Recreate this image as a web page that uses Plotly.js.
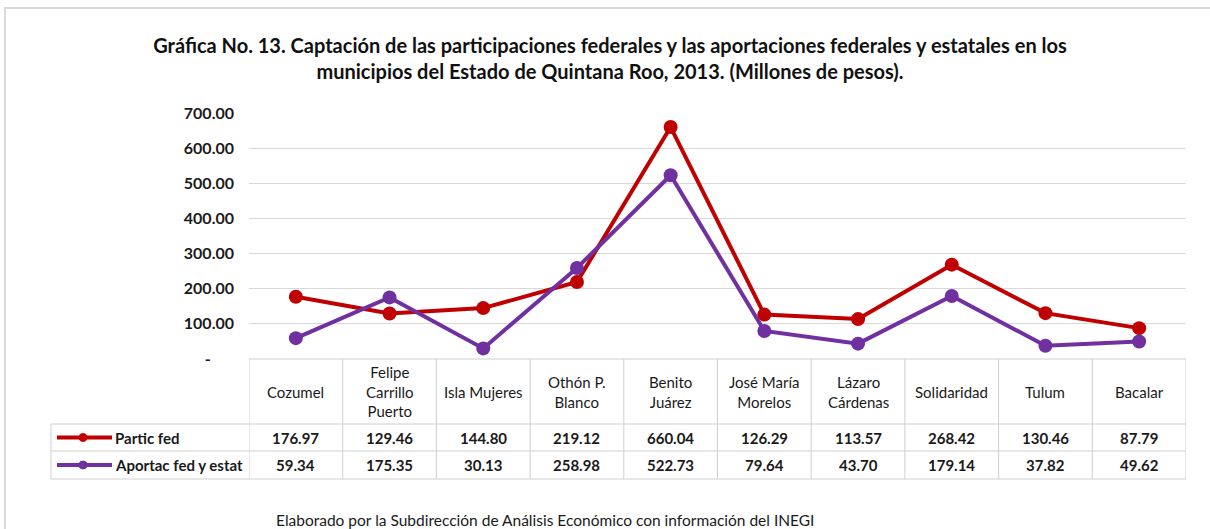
<!DOCTYPE html>
<html>
<head>
<meta charset="utf-8">
<script src="https://cdn.plot.ly/plotly-3.0.1.min.js"></script>
<style>
  html, body { margin: 0; padding: 0; background: #fff; }
  #plotlyDiv { width: 1210px; height: 529px; }
</style>
</head>
<body>
<div id="plotlyDiv"></div>
<script>
// datos de la grafica
const municipios = ['Cozumel', 'Felipe Carrillo Puerto', 'Isla Mujeres', 'Othón P. Blanco', 'Benito Juárez',
  'José María Morelos', 'Lázaro Cárdenas', 'Solidaridad', 'Tulum', 'Bacalar'];
const encabezados = ['Cozumel', 'Felipe<br>Carrillo<br>Puerto', 'Isla Mujeres', 'Othón P.<br>Blanco', 'Benito<br>Juárez',
  'José María<br>Morelos', 'Lázaro<br>Cárdenas', 'Solidaridad', 'Tulum', 'Bacalar'];
const participFed = [176.97, 129.46, 144.80, 219.12, 660.04, 126.29, 113.57, 268.42, 130.46, 87.79];
const aportacFed = [59.34, 175.35, 30.13, 258.98, 522.73, 79.64, 43.70, 179.14, 37.82, 49.62];
const nombresSeries = ['Partic fed', 'Aportac fed y estat'];
const colores = ['#C00000', '#7030A0'];
const yTicks = [0, 100, 200, 300, 400, 500, 600, 700];

const W = 1210, H = 529;
const FONT = 'Lato, "Open Sans", sans-serif';
// pixel -> paper
const px = v => v / W;
const py = v => 1 - v / H;

const series = [participFed, aportacFed];

const data = series.map((vals, i) => ({
  x: municipios,
  y: vals,
  type: 'scatter',
  mode: 'lines+markers',
  name: nombresSeries[i],
  line: { color: colores[i], width: 4 },
  marker: { color: colores[i], size: 14 },
  cliponaxis: false
}));

// tabla de datos bajo la grafica
const rowTop = 359, rowHead = 424, row1 = 451, row2 = 479;
const leftEdge = 51;
const shapes = [];
const annotations = [];
const gridColor = '#cfcfcf';

// lineas horizontales de la tabla
shapes.push({ type: 'line', xref: 'x', yref: 'paper', x0: -0.5, x1: municipios.length - 0.5, y0: py(rowTop), y1: py(rowTop), line: { color: gridColor, width: 1 } });
[rowHead, row1, row2].forEach(r => {
  shapes.push({ type: 'line', xref: 'paper', yref: 'paper', x0: px(leftEdge), x1: px(1186), y0: py(r), y1: py(r), line: { color: gridColor, width: 1 } });
});
// lineas verticales
for (let k = 0; k <= municipios.length; k++) {
  shapes.push({ type: 'line', xref: 'x', yref: 'paper', x0: k - 0.5, x1: k - 0.5, y0: py(rowTop), y1: py(row2), line: { color: gridColor, width: 1 } });
}
shapes.push({ type: 'line', xref: 'paper', yref: 'paper', x0: px(leftEdge), x1: px(leftEdge), y0: py(rowHead), y1: py(row2), line: { color: gridColor, width: 1 } });

// marco exterior
shapes.push({ type: 'line', xref: 'paper', yref: 'paper', x0: px(4), x1: 1, y0: py(8), y1: py(8), line: { color: '#d9d9d9', width: 2 } });
shapes.push({ type: 'line', xref: 'paper', yref: 'paper', x0: px(5), x1: px(5), y0: py(8), y1: 0, line: { color: '#d9d9d9', width: 2 } });

// encabezados
encabezados.forEach((t, i) => {
  annotations.push({ text: t, xref: 'x', yref: 'paper', x: municipios[i], y: py((rowTop + rowHead) / 2),
    showarrow: false, xanchor: 'center', yanchor: 'middle', align: 'center',
    font: { family: FONT, size: 15, color: '#1a1a1a' } });
});

// valores y claves de la leyenda
const rows = [(rowHead + row1) / 2, (row1 + row2) / 2];
series.forEach((vals, s) => {
  vals.forEach((v, i) => {
    annotations.push({ text: '<b>' + v.toFixed(2) + '</b>', xref: 'x', yref: 'paper', x: municipios[i], y: py(rows[s]),
      showarrow: false, xanchor: 'center', yanchor: 'middle',
      font: { family: FONT, size: 15, color: '#1a1a1a' } });
  });
  shapes.push({ type: 'line', xref: 'paper', yref: 'paper', x0: px(57), x1: px(112), y0: py(rows[s]), y1: py(rows[s]), line: { color: colores[s], width: 4 } });
  shapes.push({ type: 'circle', xref: 'paper', yref: 'paper', x0: px(79), x1: px(87), y0: py(rows[s] - 4), y1: py(rows[s] + 4), fillcolor: colores[s], line: { color: colores[s], width: 1 } });
  annotations.push({ text: '<b>' + nombresSeries[s] + '</b>', xref: 'paper', yref: 'paper', x: px(113), y: py(rows[s]),
    showarrow: false, xanchor: 'left', yanchor: 'middle',
    font: { family: FONT, size: 15, color: '#1a1a1a' } });
});

// nota al pie
annotations.push({ text: 'Elaborado por la Subdirección de Análisis Económico con información del INEGI', xref: 'paper', yref: 'paper',
  x: px(545), y: py(520), showarrow: false, xanchor: 'center', yanchor: 'middle',
  font: { family: FONT, size: 15.5, color: '#1a1a1a' } });

const layout = {
  width: W, height: H,
  margin: { l: 0, r: 0, t: 0, b: 0 },
  paper_bgcolor: '#ffffff', plot_bgcolor: '#ffffff',
  showlegend: false,
  title: {
    text: '<b>Gráfica No. 13. Captación de las participaciones federales y las aportaciones federales y estatales en los<br>municipios del Estado de Quintana Roo, 2013. (Millones de pesos).</b>',
    x: px(610), xanchor: 'center', y: py(53), yanchor: 'middle',
    font: { family: FONT, size: 20, color: '#111' }
  },
  xaxis: {
    type: 'category', domain: [px(249), px(1186)], range: [-0.5, municipios.length - 0.5],
    showticklabels: false, showgrid: false, zeroline: false, showline: false, ticks: ''
  },
  yaxis: {
    domain: [py(rowTop), py(113)], range: [0, 700],
    tickvals: yTicks,
    ticktext: yTicks.map(v => v === 0 ? '-\u00a0\u00a0\u00a0\u00a0\u00a0\u00a0' : v.toFixed(2)),
    tickfont: { family: FONT, size: 16, color: '#1a1a1a', weight: 'bold' },
    ticklabelstandoff: 14,
    showgrid: true, gridcolor: '#d9d9d9', gridwidth: 1,
    zeroline: false, showline: false, ticks: ''
  },
  shapes: shapes,
  annotations: annotations
};

Plotly.newPlot('plotlyDiv', data, layout, { staticPlot: true, displayModeBar: false });
</script>
</body>
</html>
